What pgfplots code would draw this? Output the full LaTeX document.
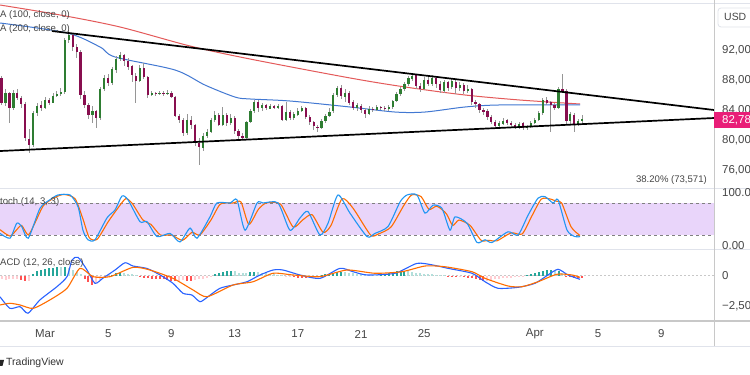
\documentclass[border=0pt]{standalone}
\usepackage{pgfplots}
\pgfplotsset{compat=1.18}
\usepackage{pgfplotstable}
\usepackage{fontspec}
\setmainfont{Liberation Sans}
\definecolor{upc}{RGB}{46,125,50}
\definecolor{dnc}{RGB}{136,14,79}
\definecolor{wick}{RGB}{150,150,150}
\definecolor{mablue}{RGB}{66,120,210}
\definecolor{mared}{RGB}{228,90,90}
\definecolor{stk}{RGB}{33,150,243}
\definecolor{org}{RGB}{255,109,0}
\definecolor{macdb}{RGB}{41,98,255}
\definecolor{band}{RGB}{233,213,250}
\definecolor{hA}{RGB}{38,166,154}
\definecolor{hB}{RGB}{178,223,219}
\definecolor{hC}{RGB}{255,82,82}
\definecolor{hD}{RGB}{255,205,210}
\definecolor{txt}{RGB}{70,70,70}
\definecolor{sep}{RGB}{224,227,235}
\definecolor{sepd}{RGB}{200,200,200}
\definecolor{pinklab}{RGB}{233,30,120}

\pgfplotstableread{
d o h l c mh hc
-1.75 88.3 88.5 84.6 84.9 -0.30 4
-1.50 84.9 86.8 84.5 86.2 -0.32 4
-1.25 86.2 86.4 82.3 84.3 -0.30 4
-1.00 84.3 86.7 84.0 86.2 -0.28 4
-0.75 86.2 86.8 85.3 85.6 -0.25 4
-0.50 85.6 85.9 84.2 84.8 -0.35 3
-0.25 84.8 85.0 79.9 80.2 -0.45 3
0.00 80.2 81.5 78.3 79.4 -0.40 4
0.25 79.4 83.8 79.0 83.6 0.15 1
0.50 83.6 85.0 83.2 84.6 0.35 1
0.75 84.6 85.2 83.9 84.3 0.45 1
1.00 84.3 85.7 84.1 85.3 0.55 1
1.25 85.3 85.6 84.7 85.0 0.60 1
1.50 85.0 86.2 84.9 85.9 0.65 1
1.75 85.9 86.5 85.7 86.1 0.70 1
2.00 86.1 86.9 85.8 86.4 0.70 2
2.25 86.4 93.6 86.2 93.3 0.75 1
2.50 93.3 94.6 92.9 94.0 0.60 2
2.75 94.0 94.2 91.8 92.4 0.45 2
3.00 92.4 92.8 90.9 91.8 0.30 2
3.25 91.8 92.0 85.5 86.0 0.15 2
3.50 86.0 86.5 84.2 84.7 -0.30 3
3.75 84.7 85.0 82.8 83.3 -0.55 3
4.00 83.3 84.5 82.2 83.8 -0.75 3
4.25 83.8 84.0 81.6 82.9 -0.60 4
4.50 82.9 87.0 82.7 86.8 -0.35 4
4.75 86.8 88.7 86.5 88.3 -0.15 4
5.00 88.3 88.8 87.2 87.6 -0.05 4
5.25 87.6 89.7 87.3 89.4 0.05 1
5.50 89.4 91.2 89.0 90.8 0.20 1
5.75 90.8 91.8 90.6 91.3 0.25 1
6.00 91.3 91.5 89.9 90.5 0.20 2
6.25 90.5 91.0 89.3 89.8 0.15 2
6.50 89.8 90.0 87.8 88.6 0.10 2
6.75 88.6 88.9 85.0 87.9 0.05 2
7.00 87.9 90.0 87.7 89.6 -0.05 3
7.25 89.6 90.3 88.1 88.4 -0.15 3
7.50 88.4 88.6 85.6 86.0 -0.20 3
7.75 86.0 86.5 85.9 86.3 -0.25 3
8.00 86.3 86.4 85.8 86.1 -0.28 3
8.25 86.1 86.6 86.0 86.3 -0.30 3
8.50 86.3 86.5 85.9 86.2 -0.30 3
8.75 86.2 86.7 86.0 86.3 -0.35 3
9.00 86.3 86.5 85.6 85.8 -0.40 3
9.25 85.8 85.9 83.0 83.2 -0.42 3
9.50 83.2 83.5 82.3 82.7 -0.40 4
9.75 82.7 82.9 80.6 80.9 -0.38 4
10.00 80.9 83.5 80.7 82.7 -0.40 3
10.25 82.7 83.2 81.5 82.0 -0.42 3
10.50 82.0 82.2 79.2 79.6 -0.35 4
10.75 79.6 80.3 76.7 79.0 -0.30 4
11.00 79.0 80.9 78.6 80.6 -0.25 4
11.25 80.6 81.5 80.3 81.1 -0.15 4
11.50 81.1 82.9 80.9 82.6 -0.05 4
11.75 82.6 83.9 82.4 83.3 0.10 1
12.00 83.3 83.6 81.8 82.0 0.20 1
12.25 82.0 84.4 81.9 83.3 0.30 1
12.50 83.3 83.6 81.9 82.3 0.38 1
12.75 82.3 83.4 82.0 82.9 0.40 1
13.00 82.9 83.2 80.8 81.2 0.35 2
13.25 81.2 81.5 80.2 80.5 0.25 2
13.50 80.5 80.9 80.0 80.3 0.20 2
13.75 80.3 82.6 80.1 82.4 0.20 2
14.00 82.4 84.1 82.2 83.8 0.28 1
14.25 83.8 85.3 83.6 85.0 0.32 1
14.50 85.0 85.3 83.8 84.2 0.30 2
14.75 84.2 84.9 83.9 84.6 0.25 2
15.00 84.6 84.8 84.0 84.2 0.20 2
15.25 84.2 84.8 84.1 84.5 0.15 2
15.50 84.5 84.7 84.1 84.3 0.10 2
15.75 84.3 84.8 84.2 84.5 0.08 2
16.00 84.5 84.7 82.5 82.7 0.05 2
16.25 82.7 85.0 82.5 83.7 -0.05 4
16.50 83.7 84.0 82.6 82.9 -0.10 4
16.75 82.9 83.8 82.7 83.4 -0.12 3
17.00 83.4 84.3 83.2 83.9 -0.15 3
17.25 83.9 84.5 83.7 84.2 -0.20 3
17.50 84.2 84.4 82.8 83.0 -0.22 3
17.75 83.0 83.3 82.0 82.4 -0.20 4
18.00 82.4 82.6 81.4 81.8 -0.15 4
18.25 81.8 82.0 81.1 81.6 -0.10 4
18.50 81.6 82.8 81.4 82.5 0.05 1
18.75 82.5 83.5 82.3 83.2 0.10 1
19.00 83.2 84.2 83.0 83.8 0.18 1
19.25 83.8 86.3 83.6 86.0 0.25 1
19.50 86.0 87.2 85.8 86.9 0.30 1
19.75 86.9 87.4 85.5 85.8 0.32 1
20.00 85.8 86.8 85.0 86.3 0.30 2
20.25 86.3 86.5 84.6 85.0 0.25 2
20.50 85.0 85.3 84.0 84.3 0.20 2
20.75 84.3 84.9 83.9 84.6 0.15 2
21.00 84.6 84.8 83.6 84.0 0.10 2
21.25 84.0 84.3 83.0 83.5 0.08 2
21.50 83.5 84.5 83.3 84.2 0.06 2
21.75 84.2 84.4 83.7 84.0 0.05 2
22.00 84.0 84.7 83.8 84.4 0.05 2
22.25 84.4 84.6 84.0 84.3 0.08 1
22.50 84.3 84.5 83.9 84.1 0.12 1
22.75 84.1 84.6 83.9 84.4 0.20 1
23.00 84.4 85.4 84.2 85.2 0.28 1
23.25 85.2 86.4 85.0 86.1 0.35 1
23.50 86.1 87.1 85.9 86.8 0.40 1
23.75 86.8 87.8 86.5 87.5 0.42 1
24.00 87.5 88.5 87.2 88.2 0.38 2
24.25 88.2 88.9 87.9 88.6 0.30 2
24.50 88.6 88.8 86.8 87.2 0.25 2
24.75 87.2 87.6 86.4 86.8 0.20 2
25.00 86.8 88.4 86.6 88.0 0.15 2
25.25 88.0 88.5 87.2 87.5 0.12 2
25.50 87.5 88.6 87.2 88.3 0.10 2
25.75 88.3 88.5 87.0 87.4 0.08 2
26.00 87.4 87.8 86.2 86.6 0.05 2
26.25 86.6 88.0 86.3 87.7 0.02 2
26.50 87.7 87.9 86.5 87.0 -0.05 3
26.75 87.0 88.1 86.8 87.8 -0.08 3
27.00 87.8 88.0 86.2 86.9 -0.10 3
27.25 86.9 87.7 86.6 87.4 -0.08 4
27.50 87.4 87.6 86.1 86.5 -0.10 3
27.75 86.5 87.3 86.3 86.8 -0.15 3
28.00 86.8 86.9 84.7 85.0 -0.22 3
28.25 85.0 85.3 84.3 84.8 -0.30 3
28.50 84.8 85.0 83.6 84.0 -0.38 3
28.75 84.0 84.3 83.4 83.8 -0.42 3
29.00 83.8 84.1 82.7 83.0 -0.40 4
29.25 83.0 83.3 82.1 82.4 -0.35 4
29.50 82.4 82.6 81.6 81.9 -0.30 4
29.75 81.9 82.5 81.7 82.2 -0.25 4
30.00 82.2 82.9 82.0 82.6 -0.20 4
30.25 82.6 82.8 82.0 82.3 -0.18 4
30.50 82.3 82.5 81.7 82.0 -0.15 4
30.75 82.0 82.3 81.5 81.8 -0.12 4
31.00 81.8 82.4 81.5 82.2 -0.08 4
31.25 82.2 82.4 81.3 81.6 -0.04 4
31.50 81.6 82.0 81.3 81.8 0.05 1
31.75 81.8 82.5 81.6 82.3 0.15 1
32.00 82.3 83.0 82.1 82.7 0.25 1
32.25 82.7 83.8 82.5 83.6 0.32 1
32.50 83.6 85.6 83.4 85.4 0.40 1
32.75 85.4 85.7 84.7 85.0 0.48 1
33.00 85.0 85.2 81.1 84.7 0.50 1
33.25 84.7 85.0 84.0 84.3 0.40 2
33.50 84.3 87.1 84.1 86.8 0.35 1
33.75 86.8 88.8 86.2 86.5 0.25 2
34.00 86.5 86.8 82.2 82.5 -0.05 3
34.25 82.5 83.8 82.2 83.4 -0.12 3
34.50 83.4 83.6 81.1 82.2 -0.18 3
34.75 82.2 82.8 81.8 82.5 -0.20 3
35.00 82.5 83.4 82.3 82.78 -0.22 3
}\candles

\begin{document}
\begin{tikzpicture}
\useasboundingbox (0bp,0bp) rectangle (750bp,375bp);
\fill[white] (0bp,0bp) rectangle (750bp,375bp);
% pane separators
\draw[sep, line width=0.8bp] (0bp,372bp) -- (750bp,372bp);
\draw[sep, line width=0.8bp] (0bp,187bp) -- (750bp,187bp);
\draw[sep, line width=0.8bp] (0bp,126bp) -- (750bp,126bp);
\draw[sepd, line width=1.2bp] (0bp,54bp) -- (750bp,54bp);
\draw[sep, line width=0.8bp] (0bp,29bp) -- (750bp,29bp);

% ===== price pane =====
\begin{axis}[at={(0bp,187bp)}, anchor=south west, scale only axis,
  width=714bp, height=188bp,
  xmin=-1.85, xmax=43.34, ymin=73.6, ymax=98.667,
  axis line style={draw=none}, xtick=\empty,
  ytick={76,80,84,88,92},
  yticklabels={{76,00},{80,00},{84,00},{88,00},{92,00}},
  yticklabel pos=right, major tick length=0pt,
  yticklabel style={anchor=west, inner sep=0pt, xshift=8bp,
    font=\fontsize{11.5}{12}\selectfont, text=txt}]
\addplot[mared, line width=1bp, smooth, tension=0.5] coordinates {
(-1.85,98.0) (1.95,96.67) (5.74,95.07) (10.18,92.53) (13.97,90.8) (20.30,88.27)
(23.78,87.07) (27.58,86.0) (31.06,85.33) (34.86,84.8)};
\addplot[mablue, line width=1bp, smooth, tension=0.5] coordinates {
(-1.85,95.6) (2.39,94.27) (4.48,92.4) (5.43,91.07) (9.23,89.33) (11.12,87.33)
(13.02,85.73) (13.97,85.47) (16.5,85.2) (20.30,84.4) (23.15,83.73)
(25.05,83.73) (27.58,84.4) (29.80,84.67) (34.86,84.67)};
% wicks
\addplot[draw=none, mark=none, error bars/.cd, y dir=both, y explicit,
  error mark=none, error bar style={draw=wick, line width=0.8bp}]
  table[x=d, y expr={(\thisrow{h}+\thisrow{l})/2},
        y error expr={(\thisrow{h}-\thisrow{l})/2}] {\candles};
% up bodies
\addplot[draw=none, mark=none,
  restrict expr to domain={\thisrow{c}-\thisrow{o}}{0:100},
  error bars/.cd, y dir=both, y explicit, error mark=none,
  error bar style={draw=upc, line width=2.2bp}]
  table[x=d, y expr={(\thisrow{o}+\thisrow{c})/2},
        y error expr={abs(\thisrow{c}-\thisrow{o})/2}] {\candles};
% down bodies
\addplot[draw=none, mark=none,
  restrict expr to domain={\thisrow{c}-\thisrow{o}}{-100:-0.001},
  error bars/.cd, y dir=both, y explicit, error mark=none,
  error bar style={draw=dnc, line width=2.2bp}]
  table[x=d, y expr={(\thisrow{o}+\thisrow{c})/2},
        y error expr={abs(\thisrow{c}-\thisrow{o})/2}] {\candles};
% trend lines
\addplot[black, line width=1.7bp] coordinates {(1.44,94.53) (43.34,84.0)};
\addplot[black, line width=1.7bp] coordinates {(-1.85,78.53) (43.34,82.93)};
\end{axis}

% ===== stochastic pane =====
\begin{axis}[at={(0bp,126bp)}, anchor=south west, scale only axis,
  width=714bp, height=61bp,
  xmin=-1.85, xmax=43.34, ymin=-6.25, ymax=108.1,
  axis line style={draw=none}, xtick=\empty,
  ytick={0,100}, yticklabels={{0.00},{100.0}},
  yticklabel pos=right, major tick length=0pt,
  yticklabel style={anchor=west, inner sep=0pt, xshift=8bp,
    font=\fontsize{11.5}{12}\selectfont, text=txt}]
\fill[band] (axis cs:-1.85,20) rectangle (axis cs:43.34,80);
\draw[gray, line width=0.7bp, dash pattern=on 3bp off 3bp] (axis cs:-1.85,80) -- (axis cs:43.34,80);
\draw[gray, line width=0.7bp, dash pattern=on 3bp off 3bp] (axis cs:-1.85,20) -- (axis cs:43.34,20);
\addplot[org, line width=1.1bp, smooth, tension=0.4] coordinates {
(-1.85,30) (-1.22,18) (-0.79,30) (-0.48,38) (-0.06,20) (0.40,45) (0.90,75)
(1.60,90) (2.20,96) (2.90,88) (3.40,50) (3.80,15) (4.30,12) (5.00,45)
(5.60,70) (6.10,88) (6.50,80) (7.20,48) (7.70,40) (8.30,20) (9.00,20)
(9.70,10) (10.30,25) (10.80,20) (11.50,48) (12.10,78) (12.90,80) (13.40,82)
(13.90,40) (14.50,68) (15.00,80) (15.90,78) (16.70,35) (17.30,48) (17.90,58)
(18.60,25) (19.10,38) (19.80,88) (20.50,70) (21.60,20) (22.10,22) (22.90,35)
(23.70,75) (24.20,95) (24.80,92) (25.30,68) (25.80,74) (26.40,60) (26.80,38)
(27.20,48) (27.90,38) (28.60,10) (29.10,10) (29.60,9) (30.50,24) (31.20,22)
(31.80,55) (32.40,87) (32.90,88) (33.40,83) (33.70,80) (34.30,35) (34.86,19)};
\addplot[stk, line width=1.1bp, smooth, tension=0.4] coordinates {
(-1.85,23) (-1.22,14) (-0.79,42) (-0.48,36) (-0.06,14) (0.68,70) (1.31,86)
(1.82,95) (2.58,95) (3.09,73) (3.40,29) (3.72,11) (4.16,11) (4.92,52)
(5.43,67) (5.87,93) (6.25,86) (7.01,45) (7.45,45) (8.09,17) (8.91,23)
(9.54,7) (10.18,33) (10.62,14) (11.44,54) (11.88,80) (12.71,80) (13.15,86)
(13.66,29) (14.42,80) (14.80,80) (15.75,80) (16.50,29) (17.14,52) (17.64,64)
(18.40,20) (18.91,42) (19.54,95) (20.30,61) (21.38,17) (21.88,23) (22.71,36)
(23.47,82) (23.91,95) (24.54,95) (25.05,61) (25.56,76) (26.12,70) (26.63,29)
(26.95,54) (27.71,42) (28.34,6) (28.85,11) (29.29,6) (30.30,26) (30.94,20)
(31.57,57) (32.20,89) (32.64,92) (33.15,80) (33.47,86) (34.04,29) (34.54,17)
(34.86,17)};
\end{axis}

% ===== MACD pane =====
\begin{axis}[at={(0bp,54bp)}, anchor=south west, scale only axis,
  width=714bp, height=72bp,
  xmin=-1.85, xmax=43.34, ymin=-3.744, ymax=2.207,
  axis line style={draw=none},
  xtick={1,5,9,13,17,21,25,32,36,40},
  xticklabels={Mar,5,9,13,17,21,25,Apr,5,9},
  xticklabel style={anchor=center, yshift=-13bp,
    font=\fontsize{11.5}{12}\selectfont, text=txt},
  ytick={-2.5,0}, yticklabels={{−2,50},{0}},
  yticklabel pos=right, major tick length=0pt,
  yticklabel style={anchor=west, inner sep=0pt, xshift=8bp,
    font=\fontsize{11.5}{12}\selectfont, text=txt}]
\draw[sepd, line width=0.8bp, dash pattern=on 2bp off 2bp] (axis cs:-1.85,0) -- (axis cs:43.34,0);
\addplot[ycomb, hA, line width=2bp, mark=none, restrict expr to domain={\thisrow{hc}}{0.5:1.5}] table[x=d,y=mh] {\candles};
\addplot[ycomb, hB, line width=2bp, mark=none, restrict expr to domain={\thisrow{hc}}{1.5:2.5}] table[x=d,y=mh] {\candles};
\addplot[ycomb, hC, line width=2bp, mark=none, restrict expr to domain={\thisrow{hc}}{2.5:3.5}] table[x=d,y=mh] {\candles};
\addplot[ycomb, hD, line width=2bp, mark=none, restrict expr to domain={\thisrow{hc}}{3.5:4.5}] table[x=d,y=mh] {\candles};
\addplot[macdb, line width=1.1bp, smooth, tension=0.4] coordinates {
(-1.85,-1.74) (-1.22,-2.7) (-0.58,-2.56) (-0.08,-3.1) (0.68,-2.0) (1.76,-0.9)
(2.39,-0.08) (2.71,1.3) (3.09,1.52) (3.66,0.47) (4.16,-0.63) (4.67,-0.2)
(5.43,0.47) (6.06,1.07) (6.57,0.8) (7.45,0.6) (8.28,0.06) (9.10,-0.63)
(9.73,-1.45) (10.30,-1.6) (10.81,-2.15) (11.31,-1.74) (12.07,-1.04)
(12.90,-0.77) (13.78,-0.5) (14.61,0.06) (15.43,0.47) (16.06,0.47) (17.14,0.06)
(18.40,-0.22) (19.67,0.61) (20.49,0.33) (21.38,0.06) (23.15,0.2) (24.54,1.02)
(25.56,0.88) (26.50,0.61) (28.02,0.2) (28.85,-0.5) (29.67,-1.04) (30.94,-0.96)
(32.01,-0.63) (32.83,0.06) (33.47,0.53) (34.10,0.06) (34.86,-0.3)};
\addplot[org, line width=1.1bp, smooth, tension=0.4] coordinates {
(-1.85,-2.42) (-1.22,-2.28) (-0.58,-2.42) (0.24,-2.7) (1.31,-2.0) (2.39,-1.04)
(3.21,0.61) (4.04,-0.08) (5.11,-0.08) (6.57,0.69) (7.64,0.47) (9.10,-0.22)
(10.37,-1.18) (11.25,-1.74) (12.90,-0.77) (14.16,-0.5) (15.43,0.2) (16.69,0.06)
(18.40,-0.08) (20.11,0.47) (21.88,0.2) (23.59,0.33) (25.05,0.8) (26.31,0.74)
(28.02,0.33) (28.85,-0.22) (30.30,-0.85) (31.19,-0.91) (32.20,-0.5)
(33.40,0.12) (34.35,0.06) (34.86,-0.13)};
\end{axis}

% right scale separator
\draw[sepd, line width=1bp] (714bp,375bp) -- (714bp,29bp);
% USD box
\draw[sep, line width=0.8bp, rounded corners=3bp, fill=white] (718bp,367bp) rectangle (756bp,348bp);
\node[anchor=west, inner sep=0pt, text=txt, font=\fontsize{10.5}{12}\selectfont] at (724bp,358bp) {USD};
% last price label
\fill[pinklab] (714bp,263bp) rectangle (750bp,247bp);
\node[anchor=west, inner sep=0pt, text=white, font=\fontsize{11.5}{12}\selectfont] at (722bp,255bp) {82,78};
% pane titles
\node[anchor=west, inner sep=0pt, text=txt, font=\fontsize{9.6}{11}\selectfont] at (0bp,360bp) {A (100, close, 0)};
\node[anchor=west, inner sep=0pt, text=txt, font=\fontsize{9.6}{11}\selectfont] at (0bp,346bp) {A (200, close, 0)};
\node[anchor=west, inner sep=0pt, text=txt, font=\fontsize{9.6}{11}\selectfont] at (0bp,173bp) {toch (14, 3, 3)};
\node[anchor=west, inner sep=0pt, text=txt, font=\fontsize{9.6}{11}\selectfont] at (0bp,112bp) {ACD (12, 26, close)};
\node[anchor=east, inner sep=0pt, text=txt, font=\fontsize{9.6}{11}\selectfont] at (707bp,195bp) {38.20\% (73,571)};
% logo
\fill[black!85] (0bp,15bp) -- (4bp,15bp) -- (2.5bp,9bp) -- (0bp,9bp) -- cycle;
\node[anchor=west, inner sep=0pt, text=black!80, font=\fontsize{10.5}{12}\selectfont] at (6bp,12.5bp) {TradingView};
\end{tikzpicture}
\end{document}
